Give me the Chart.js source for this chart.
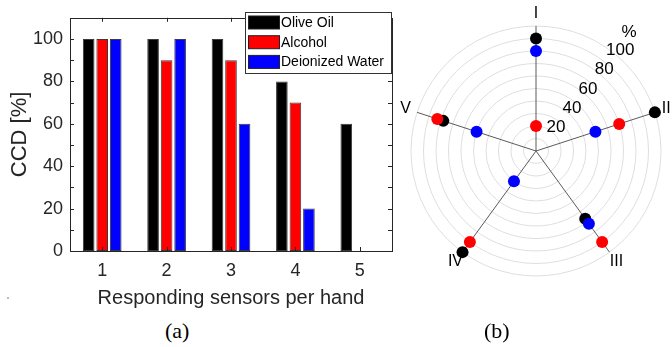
<!DOCTYPE html>
<html>
<head>
<meta charset="utf-8">
<script src="https://cdn.jsdelivr.net/npm/chart.js@4.4.1/dist/chart.umd.min.js"></script>
<style>
  html, body { margin:0; padding:0; background:#fff; overflow:hidden; }
  body { width:672px; height:347px; position:relative; font-family:"Liberation Sans", Arial, sans-serif; }
  #barBox { position:absolute; left:0; top:0; width:400px; height:312px; }
  #polarBox { position:absolute; left:381px; top:0; width:291px; height:320px; }
  .cap { position:absolute; top:318px; font-family:"Liberation Serif","Times New Roman",serif; font-size:22px; color:#000; }
</style>
</head>
<body>
<div id="barBox"><canvas id="barChart"></canvas></div>
<div id="polarBox"><canvas id="polarChart"></canvas></div>
<div class="cap" style="left:165px">(a)</div>
<div class="cap" style="left:484px">(b)</div>
<div style="position:absolute;left:7px;top:297px;width:2px;height:2px;background:#bbb"></div>

<script>
// (a) bar chart data
var sensorCounts = ['1', '2', '3', '4', '5'];
var oliveOil = [100, 100, 100, 80, 60];
var alcohol = [100, 90, 90, 70, 0];
var deionizedWater = [100, 100, 60, 20, 0];
var yTickLabels = [0, 20, 40, 60, 80, 100];
var seriesNames = ['Olive Oil', 'Alcohol', 'Deionized Water'];
var seriesColors = ['#000000', '#ff0000', '#0000ff'];

// (b) polar chart data, same order of series
var axisNames = ['I', 'II', 'III', 'IV', 'V'];
var polarOil = [90, 100, 67, 100, 78];
var polarAlcohol = [20, 70, 90, 90, 83];
var polarWater = [80, 50, 72, 30, 50];
var rTickLabels = [20, 40, 60, 80, 100];

var axisColor = '#262626';

// box + inward ticks like matlab
var framePlugin = {
    id: 'frame',
    afterDraw: function(chart) {
        var ctx = chart.ctx, a = chart.chartArea;
        var x = chart.scales.x, y = chart.scales.y;
        ctx.save();
        ctx.strokeStyle = axisColor;
        ctx.lineWidth = 1;
        ctx.beginPath();
        for (var v = 0; v <= 100; v += 10) {
            var py = Math.round(y.getPixelForValue(v)) + 0.5;
            ctx.moveTo(a.left, py); ctx.lineTo(a.left + 4, py);
            ctx.moveTo(a.right, py); ctx.lineTo(a.right - 4, py);
        }
        for (var i = 0; i < sensorCounts.length; i++) {
            var px = Math.round(x.getPixelForValue(i)) + 0.5;
            ctx.moveTo(px, a.bottom); ctx.lineTo(px, a.bottom - 4);
            ctx.moveTo(px, a.top); ctx.lineTo(px, a.top + 4);
        }
        ctx.stroke();
        ctx.strokeRect(Math.round(a.left) + 0.5, Math.round(a.top) + 0.5,
            Math.round(a.right - a.left), Math.round(a.bottom - a.top));

        // legend box
        var lx = 245.5, ly = 12.5, lw = 146, lh = 61;
        ctx.fillStyle = '#fff';
        ctx.fillRect(lx, ly, lw, lh);
        ctx.strokeStyle = '#333';
        ctx.strokeRect(lx, ly, lw, lh);
        ctx.font = '14px "Liberation Sans", Arial, sans-serif';
        ctx.textBaseline = 'middle';
        ctx.textAlign = 'left';
        chart.data.datasets.forEach(function(ds, k) {
            var cy = 22.5 + k * 19.7;
            ctx.fillStyle = ds.backgroundColor;
            ctx.fillRect(248.5, cy - 6.5, 31, 13);
            ctx.strokeStyle = '#222';
            ctx.strokeRect(248.5, cy - 6.5, 31, 13);
            ctx.fillStyle = '#000';
            ctx.fillText(ds.label, 281, cy + 0.5);
        });
        ctx.restore();
    }
};

new Chart(document.getElementById('barChart'), {
    type: 'bar',
    data: {
        labels: sensorCounts,
        datasets: [
            { label: seriesNames[0], data: oliveOil, backgroundColor: seriesColors[0] },
            { label: seriesNames[1], data: alcohol, backgroundColor: seriesColors[1] },
            { label: seriesNames[2], data: deionizedWater, backgroundColor: seriesColors[2] }
        ]
    },
    options: {
        responsive: true,
        maintainAspectRatio: false,
        animation: false,
        layout: { padding: { top: 10, right: 8, left: 0, bottom: 0 } },
        datasets: {
            bar: { categoryPercentage: 0.63, barPercentage: 0.86, borderColor: '#3a3a3a', borderWidth: 1, borderSkipped: false }
        },
        plugins: { legend: { display: false }, tooltip: { enabled: false } },
        scales: {
            x: {
                grid: { display: false, drawTicks: false },
                border: { display: false },
                ticks: { color: axisColor, font: { size: 18, family: '"Liberation Sans", Arial' }, padding: 9 },
                title: { display: true, text: 'Responding sensors per hand', color: axisColor,
                    font: { size: 20, family: '"Liberation Sans", Arial' }, padding: { top: 0, bottom: 2 } },
                afterFit: function(s) { s.height = 61; }
            },
            y: {
                min: 0, max: 110,
                grid: { display: false, drawTicks: false },
                border: { display: false },
                ticks: {
                    stepSize: 10, color: axisColor, padding: 7,
                    font: { size: 18, family: '"Liberation Sans", Arial' },
                    callback: function(v) { return yTickLabels.indexOf(v) >= 0 ? v : ''; }
                },
                title: { display: true, text: 'CCD [%]', color: axisColor,
                    font: { size: 22, family: '"Liberation Sans", Arial' }, padding: { top: 7, bottom: 0 } },
                afterFit: function(s) { s.width = 70; }
            }
        }
    },
    plugins: [framePlugin]
});

// labels for the polar plot
var polarText = {
    id: 'polarText',
    afterDraw: function(chart) {
        var ctx = chart.ctx, s = chart.scales.r;
        ctx.save();
        ctx.fillStyle = '#000';
        ctx.font = '16px "Liberation Sans", Arial, sans-serif';
        ctx.textAlign = 'center';
        ctx.textBaseline = 'middle';
        axisNames.forEach(function(n, i) {
            var p = s.getPointPosition(i, s.drawingArea + 12);
            ctx.fillText(n, p.x, p.y);
        });
        ctx.font = '17px "Liberation Sans", Arial, sans-serif';
        var ang = -50 * Math.PI / 180;
        rTickLabels.forEach(function(v) {
            var d = s.getDistanceFromCenterForValue(v) + 6;
            ctx.fillText(String(v), s.xCenter + Math.cos(ang) * d, s.yCenter + Math.sin(ang) * d);
        });
        var a2 = -52 * Math.PI / 180;
        var d2 = s.getDistanceFromCenterForValue(100) + 26;
        ctx.fillText('%', s.xCenter + Math.cos(a2) * d2, s.yCenter + Math.sin(a2) * d2);
        ctx.restore();
    }
};

function dotSet(label, data, color, order) {
    return {
        label: label, data: data, order: order,
        backgroundColor: color, borderColor: color,
        pointBackgroundColor: color, pointBorderColor: color,
        pointRadius: 6, pointBorderWidth: 0, showLine: false, fill: false, clip: false
    };
}

new Chart(document.getElementById('polarChart'), {
    type: 'radar',
    data: {
        labels: axisNames,
        datasets: [
            dotSet(seriesNames[0], polarOil, seriesColors[0], 3),
            dotSet(seriesNames[1], polarAlcohol, seriesColors[1], 2),
            dotSet(seriesNames[2], polarWater, seriesColors[2], 1)
        ]
    },
    options: {
        responsive: true,
        maintainAspectRatio: false,
        animation: false,
        layout: { padding: { left: 30, top: 26, right: 11, bottom: 44 } },
        plugins: { legend: { display: false }, tooltip: { enabled: false } },
        scales: {
            r: {
                min: 0, max: 100,
                ticks: { display: false, stepSize: 10 },
                grid: { circular: true, color: '#dedede', lineWidth: 1 },
                angleLines: { color: '#5a5a5a', lineWidth: 1 },
                pointLabels: { display: false }
            }
        }
    },
    plugins: [polarText]
});
</script>
</body>
</html>
